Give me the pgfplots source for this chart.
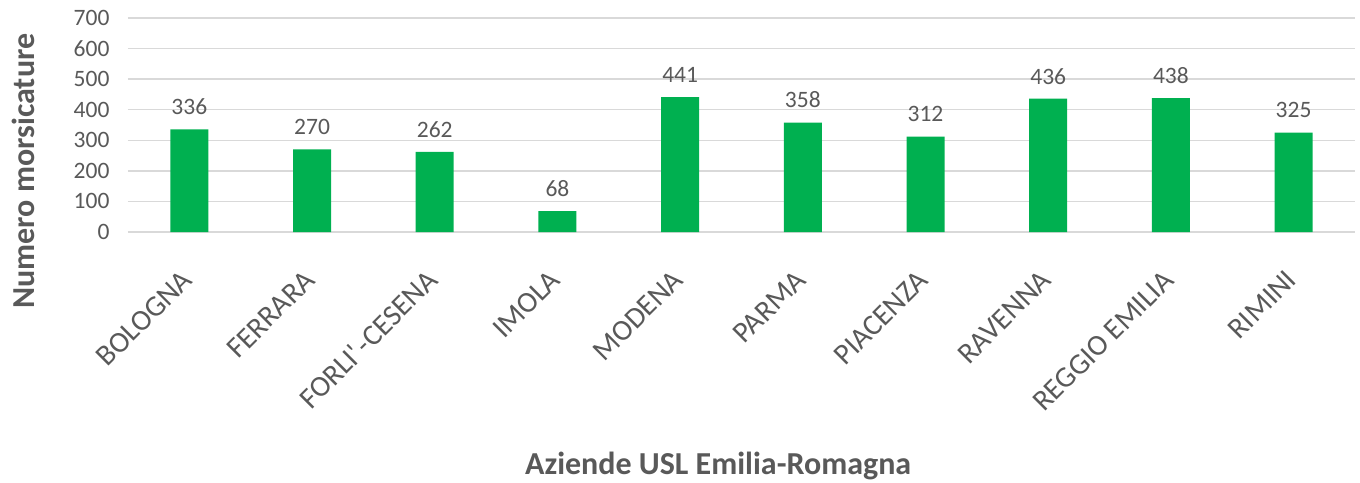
\documentclass[border=0pt]{standalone}
\usepackage{fontspec}
\setmainfont{Carlito}
\usepackage{pgfplots}
\pgfplotsset{compat=1.18}
\definecolor{bargreen}{HTML}{00B050}
\definecolor{gridgray}{HTML}{D9D9D9}
\definecolor{txtgray}{HTML}{595959}
\begin{document}
\begin{tikzpicture}
\useasboundingbox (-128bp,-251bp) rectangle (1232bp,232bp);
\begin{axis}[
  at={(0,0)}, anchor=south west,
  scale only axis,
  width=1227bp, height=214bp,
  xmin=-0.5, xmax=9.5,
  ymin=0, ymax=700,
  ytick={0,100,...,700},
  xtick={0,...,9},
  xticklabels={BOLOGNA,FERRARA,FORLI\textquotesingle\kern3bp-CESENA,IMOLA,MODENA,PARMA,PIACENZA,RAVENNA,REGGIO EMILIA,RIMINI},
  x tick label style={rotate=45, anchor=east, font=\fontsize{29.5bp}{34bp}\selectfont, text=txtgray, xshift=-32bp, yshift=-29bp, inner sep=0pt},
  y tick label style={font=\fontsize{23.5bp}{28bp}\selectfont, text=txtgray, xshift=-15bp},
  /pgf/number format/assume math mode=true,
  major tick length=0pt,
  ymajorgrids,
  grid style={gridgray, line width=1.3bp},
  axis line style={draw=none},
  ybar,
  bar width=38bp,
  nodes near coords,
  every node near coord/.append style={font=\fontsize{23.5bp}{28bp}\selectfont, text=txtgray, yshift=11bp},
  ylabel={\textbf{Numero morsicature}},
  ylabel style={at={(axis description cs:-0.0856,0.285)}, anchor=center, rotate=0, font=\fontsize{32bp}{38bp}\selectfont, text=txtgray},
  xlabel={\textbf{Aziende USL Emilia-Romagna}},
  xlabel style={at={(axis description cs:0.481,-1.095)}, anchor=center, font=\fontsize{32bp}{38bp}\selectfont, text=txtgray},
  clip=false,
]
\addplot[fill=bargreen, draw=none] coordinates {
(0,336) (1,270) (2,262) (3,68) (4,441) (5,358) (6,312) (7,436) (8,438) (9,325)
};
\end{axis}
\end{tikzpicture}
\end{document}
